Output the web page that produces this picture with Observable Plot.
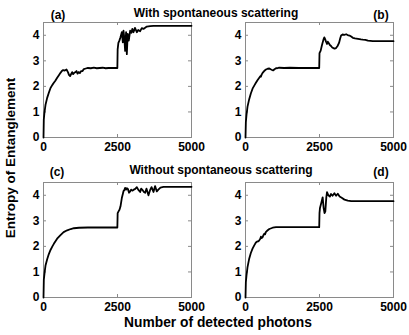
<!DOCTYPE html>
<html>
<head>
<meta charset="utf-8">
<script src="https://cdn.jsdelivr.net/npm/d3@7"></script>
<script src="https://cdn.jsdelivr.net/npm/@observablehq/plot@0.6"></script>
<style>
  html, body { margin: 0; padding: 0; background: #fff; }
  #fig { position: relative; width: 409px; height: 335px; font-family: "Liberation Sans", Arial, sans-serif; font-weight: bold; color: #000; overflow: hidden; }
  .lbl { position: absolute; white-space: nowrap; transform: translate(-50%, -50%); }
  .panel { position: absolute; }
  .panel svg { overflow: visible; }
</style>
</head>
<body>
<div id="fig"></div>
<script>
// photons vs entropy
const panelA = [[0,0],[10,0.7],[30,0.95],[68,1.28],[124,1.55],[180,1.75],[237,1.94],[300,2.06],[349,2.14],[400,2.22],[462,2.34],[520,2.44],[574,2.53],[620,2.6],[665,2.64],[720,2.62],[777,2.66],[830,2.55],[860,2.45],[900,2.4],[940,2.5],[968,2.56],[1000,2.48],[1030,2.52],[1070,2.55],[1115,2.6],[1150,2.5],[1194,2.56],[1230,2.52],[1272,2.6],[1320,2.6],[1362,2.68],[1430,2.7],[1500,2.72],[1600,2.71],[1700,2.73],[1800,2.71],[1900,2.72],[2000,2.73],[2100,2.71],[2200,2.72],[2300,2.72],[2495,2.72],[2505,3.45],[2530,3.7],[2567,3.8],[2600,3.92],[2646,4.12],[2680,3.72],[2702,4.18],[2730,3.9],[2758,3.39],[2790,4.12],[2815,3.26],[2845,4.05],[2880,3.79],[2928,4.18],[2970,4.1],[3000,4.25],[3040,4.12],[3090,4.29],[3153,4.12],[3200,4.21],[3266,4.16],[3320,4.28],[3378,4.25],[3490,4.34],[3603,4.36],[3716,4.37],[5000,4.37]];
const panelB = [[0,0],[12,0.6],[34,0.88],[68,1.21],[125,1.5],[180,1.72],[238,1.91],[300,2.04],[351,2.14],[410,2.25],[465,2.34],[500,2.4],[520,2.38],[545,2.46],[578,2.53],[630,2.6],[691,2.66],[750,2.69],[805,2.7],[850,2.67],[900,2.64],[941,2.63],[980,2.67],[1031,2.71],[1100,2.72],[1145,2.73],[1300,2.72],[1500,2.73],[1800,2.72],[2100,2.72],[2300,2.72],[2490,2.72],[2500,3.3],[2540,3.4],[2580,3.6],[2607,3.72],[2640,3.85],[2663,3.92],[2690,3.85],[2720,3.75],[2754,3.66],[2780,3.75],[2810,3.7],[2850,3.62],[2890,3.58],[2930,3.52],[2969,3.5],[3010,3.48],[3060,3.5],[3110,3.58],[3160,3.7],[3200,3.88],[3230,3.99],[3280,4.03],[3340,4.02],[3400,4.04],[3450,4.01],[3513,3.99],[3570,3.95],[3627,3.9],[3700,3.88],[3800,3.86],[3900,3.84],[3967,3.83],[4050,3.82],[4137,3.79],[4300,3.77],[5000,3.77]];
const panelC = [[0,0],[11,0.7],[40,1.0],[68,1.25],[124,1.5],[180,1.7],[237,1.86],[300,2.0],[349,2.1],[460,2.3],[574,2.44],[680,2.56],[800,2.63],[920,2.68],[1025,2.71],[1200,2.73],[1500,2.74],[2000,2.74],[2495,2.74],[2505,3.3],[2540,3.38],[2567,3.43],[2600,3.56],[2646,3.89],[2680,4.05],[2702,4.16],[2730,4.2],[2758,4.29],[2790,4.22],[2815,4.28],[2850,4.25],[2890,4.1],[2928,4.15],[2960,4.22],[3000,4.18],[3050,4.22],[3100,4.25],[3153,4.32],[3200,4.22],[3266,4.13],[3300,4.26],[3350,4.2],[3400,4.12],[3434,4.1],[3480,4.26],[3546,4.0],[3600,4.2],[3650,4.32],[3716,4.13],[3770,4.36],[3828,4.15],[3880,4.22],[3950,4.3],[4053,4.33],[4200,4.33],[5000,4.33]];
const panelD = [[0,0],[12,0.6],[34,0.86],[68,1.19],[125,1.52],[180,1.74],[238,1.91],[300,2.05],[351,2.15],[408,2.2],[440,2.2],[465,2.24],[500,2.3],[520,2.38],[545,2.33],[578,2.36],[610,2.45],[635,2.5],[660,2.47],[691,2.57],[750,2.63],[805,2.68],[918,2.73],[1031,2.75],[1500,2.75],[2000,2.75],[2490,2.75],[2500,3.3],[2516,3.5],[2560,3.7],[2607,3.92],[2640,3.5],[2670,3.3],[2697,3.37],[2730,3.92],[2754,4.12],[2800,4.0],[2850,3.95],[2890,4.05],[2940,3.98],[3003,4.08],[3060,3.98],[3117,4.06],[3180,3.95],[3250,3.9],[3343,3.83],[3457,3.79],[3570,3.77],[5000,3.77]];

const xTicks = [0, 2500, 5000];
const yTicks = [0, 1, 2, 3, 4];
const panelTags = ["(a)", "(b)", "(c)", "(d)"];
const rowTitles = ["With spontaneous scattering", "Without spontaneous scattering"];
const xLabel = "Number of detected photons";
const yLabel = "Entropy of Entanglement";

const fig = document.getElementById("fig");
const W = 148, H = 115, ML = 43, MT = 22;
const frameColor = "#8a8a8a";

function makePanel(data, left, top) {
  const chart = Plot.plot({
    width: 200, height: 160,
    marginLeft: ML, marginRight: 200 - ML - W, marginTop: MT, marginBottom: 160 - MT - H,
    style: { fontFamily: "Liberation Sans, Arial, sans-serif", fontSize: "12px", fontWeight: "bold", color: "#000", background: "transparent", overflow: "visible" },
    x: { domain: [0, 5000], ticks: xTicks, tickSize: 0, tickPadding: 5, tickFormat: d => String(d), label: null },
    y: { domain: [0, 4.5], ticks: yTicks, tickSize: 0, tickPadding: 4, tickFormat: d => String(d), label: null },
    marks: [
      Plot.tickY(yTicks.slice(1), { y: d => d, insetRight: W - 3, stroke: frameColor }),
      Plot.tickY(yTicks.slice(1), { y: d => d, insetLeft: W - 3, stroke: frameColor }),
      Plot.tickX([2500], { x: d => d, insetTop: H - 3, stroke: frameColor }),
      Plot.tickX([2500], { x: d => d, insetBottom: H - 3, stroke: frameColor }),
      Plot.frame({ stroke: frameColor }),
      Plot.line(data, { x: d => d[0], y: d => d[1], stroke: "#000", strokeWidth: 1.8, strokeLinejoin: "round" })
    ]
  });
  const div = document.createElement("div");
  div.className = "panel";
  div.style.left = left + "px";
  div.style.top = top + "px";
  div.appendChild(chart);
  fig.appendChild(div);
}

makePanel(panelA, 0, 0);
makePanel(panelB, 202, 0);
makePanel(panelC, 0, 160);
makePanel(panelD, 202, 160);

function label(text, x, y, size, rotate) {
  const d = document.createElement("div");
  d.className = "lbl";
  d.textContent = text;
  d.style.left = x + "px";
  d.style.top = y + "px";
  d.style.fontSize = size + "px";
  if (rotate) d.style.transform = "translate(-50%, -50%) rotate(-90deg)";
  fig.appendChild(d);
}

label(panelTags[0], 58, 15, 12);
label(panelTags[1], 381, 15, 12);
label(panelTags[2], 57, 172, 12);
label(panelTags[3], 381, 172, 12);
label(rowTitles[0], 216, 13, 12);
label(rowTitles[1], 221, 170, 12);
label(xLabel, 218, 322, 13.8);
label(yLabel, 10, 158, 13.5, true);
</script>
</body>
</html>
